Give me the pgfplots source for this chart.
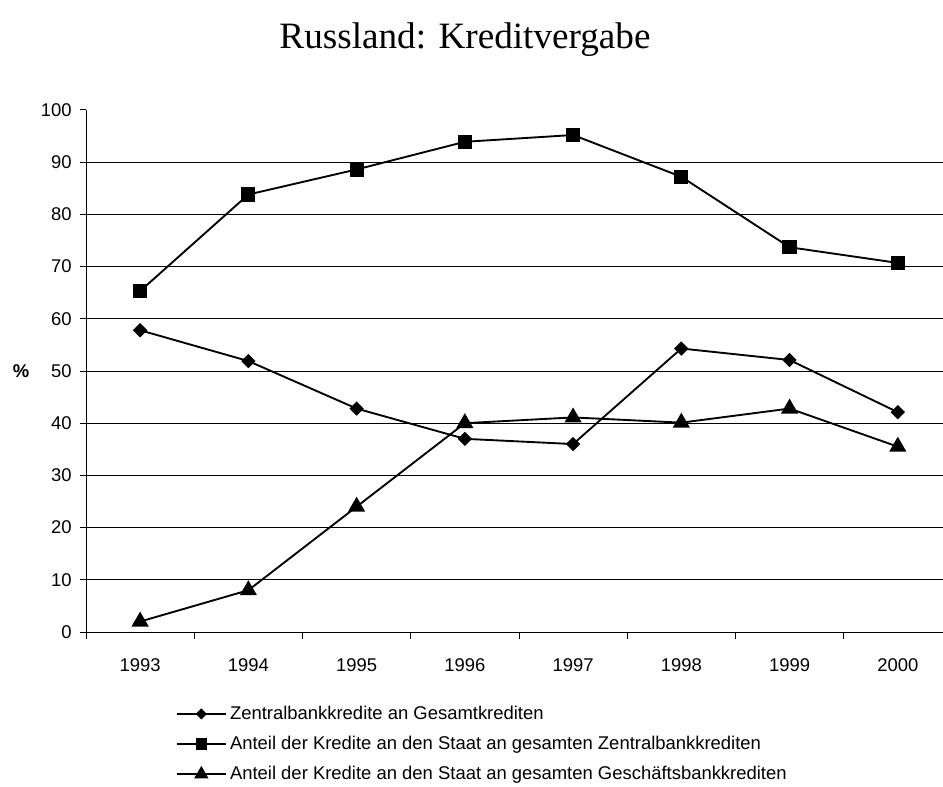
\documentclass[border=0pt]{standalone}
\usepackage{pgfplots}
\pgfplotsset{compat=1.18}
\usepackage{fontspec}
\setmainfont{Liberation Sans}
\newfontfamily\titlefont{Liberation Serif}
\begin{document}
\begin{tikzpicture}[x=0.667pt,y=0.667pt]
\useasboundingbox (0,0) rectangle (943,787);
\node[anchor=base] at (465,738) {\titlefont\fontsize{24.8}{28}\selectfont Russland: Kreditvergabe};
\begin{axis}[
  at={(57.36pt,103.39pt)}, anchor=south west,
  scale only axis, width=577.6pt, height=348.2pt,
  /pgf/number format/assume math mode=true,
  font=\fontsize{12.3}{14}\selectfont,
  xmin=0.5, xmax=8.5, ymin=0, ymax=100,
  axis lines*=left,
  axis line style={line width=0.6pt},
  xtick={1,...,8},
  xticklabels={1993,1994,1995,1996,1997,1998,1999,2000},
  minor xtick={0.5,1.5,...,8.5},
  major x tick style={draw=none},
  minor x tick style={draw=black,line width=0.6pt},
  ytick={0,10,...,90},
  extra y ticks={100},
  extra tick style={grid=none},
  ytick style={line width=0.6pt,black},
  tick align=outside,
  major tick length=4pt, minor tick length=4.4pt,
  ymajorgrids,
  grid style={line width=0.6pt,black},
  xticklabel style={yshift=-10pt},
  yticklabel style={xshift=-2pt},
  ylabel={\textbf{\%}},
  every axis y label/.style={at={(rel axis cs:-0.075,0.5)},anchor=center},
  legend cell align=left,
  legend style={at={(0.098,-0.13)}, anchor=north west, draw=none, fill=none,
    row sep=5.7pt, font=\fontsize{12.3}{14}\selectfont,
    /tikz/every even column/.append style={column sep=0pt}},
  legend image code/.code={\draw[mark repeat=2,mark phase=2,#1] plot coordinates {(0cm,0cm)(0.58cm,0cm)(1.16cm,0cm)};},
]
\addplot[black, line width=1.25pt, mark=square*, mark size=2.75pt, mark options={rotate=45,solid},
  legend image post style={mark size=2.0pt}] coordinates {
(1,57.8) (2,51.9) (3,42.8) (4,37.0) (5,36.0) (6,54.3) (7,52.1) (8,42.1)};
\addlegendentry{Zentralbankkredite an Gesamtkrediten}
\addplot[black, line width=1.25pt, mark=square*, mark size=4.1pt, mark options={solid},
  legend image post style={mark size=3.2pt}] coordinates {
(1,65.3) (2,83.8) (3,88.6) (4,93.9) (5,95.2) (6,87.2) (7,73.7) (8,70.7)};
\addlegendentry{Anteil der Kredite an den Staat an gesamten Zentralbankkrediten}
\addplot[black, line width=1.25pt, mark=triangle*, mark size=5.4pt, mark options={solid},
  legend image post style={mark size=4.3pt}] coordinates {
(1,2.0) (2,8.0) (3,24.0) (4,40.0) (5,41.1) (6,40.1) (7,42.8) (8,35.5)};
\addlegendentry{Anteil der Kredite an den Staat an gesamten Geschäftsbankkrediten}
\end{axis}
\end{tikzpicture}
\end{document}
